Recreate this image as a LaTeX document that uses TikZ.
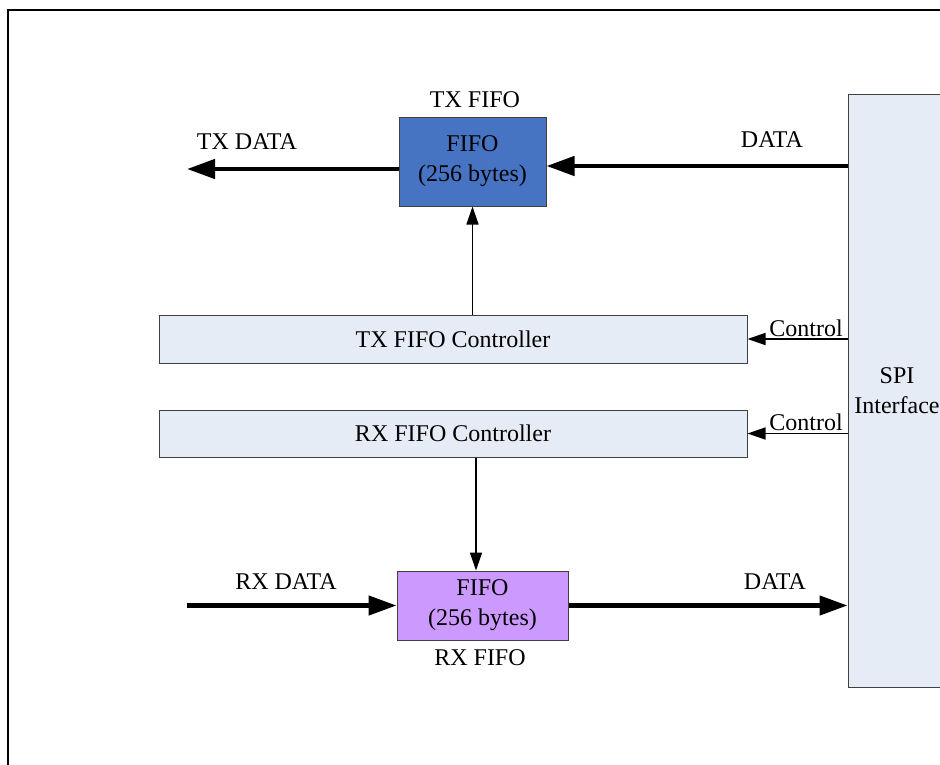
\documentclass[tikz,border=0pt]{standalone}
\usepackage{fontspec}
\setmainfont{Liberation Serif}
\usetikzlibrary{arrows.meta}
\definecolor{txblue}{RGB}{70,115,194}
\definecolor{rxpurple}{RGB}{204,153,255}
\definecolor{spifill}{RGB}{230,236,246}
\definecolor{boxline}{RGB}{64,64,64}
\tikzset{>={Triangle[length=18pt,width=12pt]},
  blk/.style={draw=boxline, line width=1pt, align=center, inner sep=0pt},
  ctrlbox/.style={blk, fill=spifill, minimum width=588pt, minimum height=48pt},
  bus/.style={line width=4.5pt, -{Triangle[length=28pt,width=19pt]}},
  sig/.style={line width=1.5pt, ->},
  lbl/.style={inner sep=0pt}}

\begin{document}
\begin{tikzpicture}[x=1pt, y=-1pt, font=\fontsize{24}{30}\selectfont]
\path[use as bounding box, clip] (0,0) rectangle (940,764);
% outer frame
\draw[line width=2.5pt] (8,800) -- (8,10) -- (960,10);

% blocks
\node[blk, fill=spifill, minimum width=98pt, minimum height=593pt] (spi) at (897,390.5) {SPI\\Interface};
\node[blk, fill=txblue, minimum width=147pt, minimum height=89pt] (txfifo) at (472.5,161.5) {FIFO\\(256 bytes)};
\node[blk, fill=rxpurple, minimum width=171pt, minimum height=69pt] (rxfifo) at (482.5,605.5) {FIFO\\(256 bytes)};
\node[ctrlbox] (txctrl) at (453,339) {TX FIFO Controller};
\node[ctrlbox, minimum height=47pt] (rxctrl) at (453,433.5) {RX FIFO Controller};

% labels
\node[lbl] (txname) at (475,100) {TX FIFO};
\node[lbl] (rxname) at (480,658) {RX FIFO};
\node[lbl] (txdatalbl) at (247,142) {TX DATA};
\node[lbl] (txinlbl) at (772,140) {DATA};
\node[lbl] (rxdatalbl) at (286,582) {RX DATA};
\node[lbl] (rxoutlbl) at (775,582) {DATA};

% free ends
\coordinate (txout) at (187,169);
\coordinate (txin) at (848,166);
\coordinate (rxin) at (187,605.5);

% data paths
\draw[bus] (txfifo.west |- txout) -- (txout);
\draw[bus] (txin) -- (txfifo.east |- txin);
\draw[bus] (rxin) -- (rxfifo.west);
\draw[bus] (rxfifo.east) -- (spi.west |- rxfifo.east);

% control paths
\draw[sig] (txctrl.north -| txfifo.south) -- (txfifo.south);
\draw[sig] ([xshift=-6.5pt]rxctrl.south -| rxfifo.north) -- ([xshift=-6.5pt]rxfifo.north);
\draw[sig] (spi.west |- txctrl.east) node[anchor=south east, inner xsep=4pt, inner ysep=2pt] {Control} -- (txctrl.east);
\draw[sig] (spi.west |- rxctrl.east) node[anchor=south east, inner xsep=4pt, inner ysep=2pt] {Control} -- (rxctrl.east);
\end{tikzpicture}
\end{document}
